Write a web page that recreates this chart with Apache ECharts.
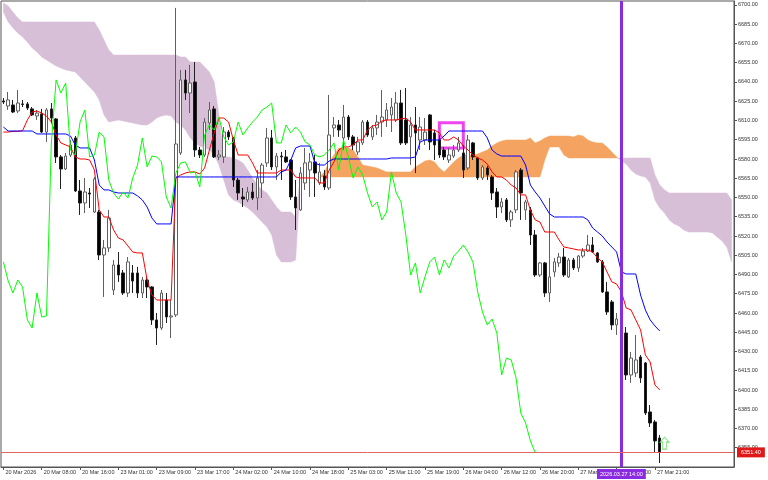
<!DOCTYPE html>
<html>
<head>
<meta charset="utf-8">
<script src="https://cdn.jsdelivr.net/npm/echarts/dist/echarts.min.js"></script>
<style>html,body{margin:0;padding:0;background:#fff}#c{width:768px;height:480px}</style>
</head>
<body>
<div id="c"></div>
<script>
// ---- data (prices) ----
const tickLabels = ['20 Mar 2026','20 Mar 08:00','20 Mar 16:00','23 Mar 01:00','23 Mar 09:00','23 Mar 17:00',
  '24 Mar 02:00','24 Mar 10:00','24 Mar 18:00','25 Mar 03:00','25 Mar 11:00','25 Mar 19:00',
  '26 Mar 04:00','26 Mar 12:00','26 Mar 20:00','27 Mar 05:00','27 Mar 13:00','27 Mar 21:00'];
const tickEvery = 8;
const slotCount = 153; // 138 bars + cloud projected forward

const open = [6625.2,6621.3,6622.1,6617.4,6622.9,6622.9,6619.0,6613.5,6615.1,6601.0,
6619.0,6611.2,6581.6,6572.2,6583.1,6596.4,6555.1,6545.7,6553.5,6538.7,
6538.7,6505.2,6510.7,6477.9,6497.4,6491.2,6475.6,6491.2,6491.2,6475.6,
6485.7,6480.3,6454.6,6448.3,6470.1,6456.9,6458.5,6584.7,6641.6,6631.4,
6640.0,6587.0,6583.1,6608.1,6619.0,6581.6,6581.6,6601.0,6596.4,6563.6,
6550.4,6548.1,6554.3,6549.6,6561.3,6576.9,6596.4,6573.8,6582.3,6581.6,
6579.2,6550.4,6540.3,6561.3,6571.4,6577.7,6561.3,6566.8,6557.4,6604.2,
6606.5,6596.4,6612.7,6597.2,6585.5,6592.5,6608.8,6597.2,6604.2,6608.8,
6610.4,6614.3,6610.4,6623.6,6610.4,6597.2,6606.5,6594.8,6594.8,6614.3,
6600.3,6594.8,6587.0,6579.2,6582.3,6587.0,6584.7,6573.0,6592.5,6580.8,
6565.2,6573.0,6566.0,6554.3,6542.6,6548.1,6532.5,6540.3,6571.4,6540.3,
6540.3,6520.8,6489.6,6499.0,6475.6,6492.0,6499.0,6503.6,6488.1,6501.3,
6495.1,6504.4,6508.3,6513.0,6506.8,6499.8,6476.4,6468.6,6450.7,6454.6,
6444.4,6411.7,6413.3,6425.7,6421.1,6382.9,6375.1,6362.6];
const close = [6624.4,6626.0,6616.6,6623.6,6622.5,6619.7,6614.3,6615.8,6601.0,6618.2,
6611.9,6581.6,6572.2,6582.3,6590.9,6555.1,6545.7,6554.3,6552.7,6564.4,
6505.2,6510.7,6534.0,6497.4,6489.6,6475.6,6499.8,6484.9,6475.6,6485.7,
6480.3,6454.6,6448.3,6475.6,6456.9,6457.7,6591.7,6641.6,6631.4,6639.2,
6587.0,6583.1,6608.8,6618.2,6581.6,6583.1,6601.0,6597.2,6563.6,6553.5,
6548.8,6554.3,6549.6,6565.2,6575.3,6596.4,6573.8,6582.3,6581.6,6577.7,
6550.4,6541.8,6569.1,6576.9,6577.7,6569.1,6569.9,6558.2,6598.7,6606.5,
6602.6,6612.7,6597.2,6590.9,6593.3,6608.8,6598.7,6604.2,6608.8,6612.7,
6618.2,6620.5,6623.6,6592.5,6592.5,6606.5,6600.3,6604.9,6601.0,6593.3,
6590.9,6583.1,6581.6,6583.1,6587.0,6592.5,6571.4,6594.8,6581.6,6565.2,
6573.8,6567.5,6553.5,6542.6,6546.5,6532.5,6538.7,6569.9,6553.5,6546.5,
6520.8,6489.6,6499.0,6475.6,6488.1,6499.8,6503.6,6489.6,6501.3,6495.1,
6504.4,6508.3,6513.0,6507.5,6499.8,6476.4,6460.8,6450.7,6455.3,6444.4,
6411.7,6424.9,6423.4,6409.4,6382.1,6374.3,6360.3,6351.4];
const low = [6622.9,6618.2,6615.8,6615.8,6620.5,6618.2,6613.5,6610.4,6600.3,6593.3,
6608.1,6576.9,6556.6,6571.4,6581.6,6554.3,6536.4,6537.9,6541.8,6537.9,
6501.3,6472.5,6507.5,6474.0,6484.2,6474.0,6472.5,6475.6,6471.7,6471.7,
6471.7,6450.7,6435.1,6446.8,6452.2,6440.5,6456.9,6583.1,6626.0,6615.8,
6581.6,6580.8,6581.6,6602.6,6580.8,6579.2,6576.9,6594.8,6558.2,6548.1,
6542.6,6546.5,6548.1,6540.3,6549.6,6573.8,6571.4,6563.6,6563.6,6576.9,
6548.1,6524.7,6539.5,6555.9,6550.4,6550.4,6559.7,6555.9,6555.9,6597.2,
6597.2,6587.0,6594.8,6587.0,6583.1,6590.9,6597.2,6594.8,6598.7,6597.2,
6604.9,6601.0,6608.8,6590.9,6590.9,6575.3,6569.1,6587.0,6590.9,6587.0,
6579.2,6580.8,6579.2,6576.9,6580.8,6585.5,6565.2,6571.4,6579.2,6563.6,
6563.6,6563.6,6548.1,6534.0,6537.9,6530.9,6527.0,6537.9,6532.5,6532.5,
6513.0,6488.1,6488.1,6472.5,6468.6,6488.1,6495.9,6488.1,6487.3,6493.5,
6492.0,6502.9,6507.5,6506.8,6499.0,6475.6,6458.5,6446.8,6442.9,6439.0,
6407.8,6405.5,6410.1,6405.5,6380.5,6371.2,6351.7,6343.1];
const high = [6627.5,6632.2,6626.0,6633.8,6626.0,6624.4,6620.5,6618.2,6619.0,6619.7,
6623.6,6611.9,6583.1,6584.7,6594.8,6597.9,6563.6,6565.2,6557.4,6566.0,
6540.3,6516.9,6540.3,6501.3,6507.5,6493.5,6503.6,6497.4,6495.9,6488.1,
6488.1,6481.0,6460.0,6477.9,6475.6,6470.1,6697.7,6649.4,6649.4,6653.3,
6655.6,6589.4,6611.9,6624.4,6621.3,6587.0,6604.9,6602.6,6597.0,6565.2,
6557.4,6558.2,6561.3,6571.4,6576.9,6604.2,6602.6,6584.7,6585.5,6587.0,
6580.0,6563.6,6573.8,6588.6,6584.7,6583.1,6576.9,6571.4,6629.9,6612.7,
6610.4,6622.1,6614.3,6598.7,6597.2,6610.4,6610.4,6606.5,6614.3,6633.8,
6623.6,6627.5,6632.2,6633.8,6635.3,6612.7,6620.5,6612.7,6611.9,6615.0,
6602.6,6598.7,6589.4,6588.6,6590.9,6597.2,6590.9,6598.7,6593.3,6581.6,
6575.3,6574.6,6567.5,6557.4,6549.6,6549.6,6540.3,6571.4,6573.0,6548.1,
6542.6,6524.7,6499.8,6499.8,6549.6,6502.9,6506.8,6510.7,6502.9,6502.9,
6505.2,6510.7,6520.8,6519.2,6507.5,6501.3,6484.2,6470.1,6460.0,6458.5,
6449.1,6429.6,6442.9,6427.3,6421.8,6388.3,6376.6,6364.9];

const tenkan = [6601.0,6601.0,6601.5,6601.5,6602.0,6610.4,6616.6,6617.4,6615.8,6613.5,
6608.8,6598.7,6592.5,6590.9,6589.4,6581.6,6580.0,6580.0,6579.2,6571.4,
6540.3,6534.8,6534.8,6524.7,6518.4,6516.9,6512.2,6507.5,6506.8,6506.8,
6485.7,6474.0,6470.1,6470.1,6470.1,6470.1,6565.2,6567.5,6569.1,6569.9,
6569.9,6568.3,6573.0,6587.0,6600.3,6611.9,6611.9,6608.8,6594.8,6583.1,
6583.1,6583.1,6576.9,6569.1,6569.1,6569.1,6569.1,6569.1,6571.4,6571.4,
6571.4,6566.0,6565.2,6565.2,6565.2,6565.2,6561.3,6561.3,6571.4,6577.7,
6587.0,6589.4,6589.4,6590.9,6594.8,6594.8,6602.6,6605.7,6606.5,6609.6,
6610.4,6610.4,6610.4,6611.2,6611.9,6608.8,6602.6,6602.6,6602.6,6602.6,
6602.6,6600.3,6594.8,6594.8,6597.2,6594.8,6590.1,6587.0,6583.1,6580.8,
6579.2,6576.1,6569.9,6566.0,6566.0,6563.6,6559.7,6557.4,6552.0,6552.0,
6540.3,6532.5,6530.9,6523.1,6523.1,6523.1,6516.9,6511.4,6510.7,6509.9,
6509.1,6509.1,6509.1,6507.5,6502.9,6499.8,6492.0,6484.2,6482.6,6476.4,
6463.9,6462.4,6454.6,6446.8,6427.3,6421.8,6403.9,6400.0];
const kijun = [6604.9,6601.8,6601.8,6601.8,6601.8,6601.8,6601.8,6599.5,6599.5,6599.5,
6599.5,6599.5,6599.5,6599.5,6597.9,6590.9,6588.6,6588.6,6588.6,6579.2,
6559.7,6555.9,6555.9,6554.3,6553.5,6553.5,6553.5,6553.5,6551.2,6548.1,
6542.6,6534.0,6529.4,6529.4,6529.4,6529.4,6566.0,6566.0,6566.0,6566.0,
6566.0,6566.0,6566.0,6566.0,6566.0,6566.0,6566.0,6566.0,6566.0,6566.0,
6566.0,6566.0,6566.0,6566.0,6566.0,6566.0,6566.0,6566.0,6569.9,6571.4,
6579.2,6588.6,6590.1,6590.1,6590.1,6576.9,6575.3,6575.3,6578.4,6580.0,
6580.0,6580.0,6580.0,6580.0,6580.0,6580.0,6580.0,6580.0,6580.0,6580.0,
6580.0,6580.8,6580.8,6580.8,6580.8,6580.8,6581.6,6593.3,6594.8,6594.8,
6594.8,6594.8,6597.9,6601.8,6601.8,6601.8,6601.8,6601.8,6601.8,6601.8,
6601.8,6596.4,6587.0,6583.9,6582.3,6582.3,6582.3,6582.3,6582.3,6575.3,
6559.7,6554.3,6549.6,6543.4,6537.2,6534.8,6534.8,6534.8,6534.8,6534.8,
6534.8,6534.8,6532.5,6526.2,6523.1,6520.0,6515.3,6511.4,6507.5,6492.0,
6490.4,6490.4,6490.4,6474.0,6462.4,6454.6,6449.9,6446.0];

// Senkou span A / B (already projected 26 bars forward), slots 0..152
const spanA = [6694.5,6686.8,6682.1,6678.2,6675.1,6671.2,6666.5,6663.4,6659.5,6657.2,
6654.8,6652.5,6650.9,6649.4,6648.6,6647.8,6643.9,6640.0,6636.1,6632.2,
6626.0,6614.3,6608.8,6609.6,6610.4,6609.6,6608.8,6608.1,6607.3,6606.5,
6606.5,6608.8,6611.9,6613.5,6614.3,6613.5,6608.8,6606.5,6602.6,6596.4,
6592.5,6590.1,6588.6,6587.0,6583.1,6575.3,6563.6,6552.0,6548.1,6546.5,
6544.2,6541.8,6538.7,6534.8,6530.9,6527.0,6520.8,6505.2,6499.8,6499.8,
6499.8,6501.3,6566.0,6566.0,6566.0,6566.0,6566.0,6569.9,6577.7,6583.1,
6588.6,6588.6,6588.6,6587.0,6581.6,6575.3,6574.6,6573.8,6573.0,6571.4,
6569.9,6569.9,6569.9,6569.9,6569.9,6569.9,6573.8,6576.1,6578.4,6579.2,
6577.7,6573.0,6569.9,6573.8,6577.7,6580.8,6583.1,6583.1,6583.1,6583.9,
6585.5,6587.0,6590.1,6592.5,6594.0,6594.8,6594.8,6594.8,6594.8,6594.8,
6596.4,6592.5,6594.0,6596.4,6597.9,6597.9,6597.9,6597.9,6597.9,6597.2,
6598.7,6597.9,6594.8,6593.3,6592.5,6592.5,6589.4,6585.5,6581.6,6578.4,
6576.1,6571.4,6568.3,6566.8,6566.0,6561.3,6548.1,6541.8,6537.9,6532.5,
6529.4,6527.8,6524.7,6523.1,6523.1,6523.1,6523.1,6523.1,6522.3,6519.2,
6516.1,6511.4,6499.8];
const spanB = [6701.6,6699.2,6694.5,6689.9,6686.8,6686.8,6686.8,6686.8,6686.8,6686.8,
6686.8,6686.8,6686.8,6686.8,6686.8,6686.8,6686.8,6686.8,6686.8,6686.8,
6680.5,6672.7,6664.9,6661.0,6661.0,6661.0,6661.0,6661.0,6661.0,6661.0,
6661.0,6661.0,6661.0,6661.0,6661.0,6661.0,6661.0,6659.5,6659.5,6655.6,
6655.6,6655.6,6651.7,6647.8,6640.0,6614.3,6581.6,6581.6,6580.8,6579.2,
6576.9,6571.4,6565.2,6559.7,6555.9,6553.5,6548.1,6542.6,6538.7,6538.7,
6538.7,6534.8,6566.0,6566.0,6566.0,6566.0,6566.0,6566.0,6566.0,6566.0,
6566.0,6566.0,6566.0,6566.0,6566.0,6566.0,6566.0,6566.0,6566.0,6566.0,
6566.0,6566.0,6566.0,6566.0,6566.0,6566.0,6566.0,6566.0,6566.0,6566.0,
6566.0,6566.0,6566.0,6566.0,6566.0,6566.0,6566.0,6566.0,6566.0,6566.0,
6566.0,6566.0,6566.0,6566.0,6566.0,6566.0,6566.0,6566.0,6566.0,6566.0,
6566.0,6566.0,6566.0,6579.2,6589.4,6589.4,6589.4,6583.1,6580.8,6580.8,
6580.8,6580.8,6580.8,6580.8,6580.8,6580.8,6580.8,6580.8,6580.8,6580.8,
6580.8,6580.8,6580.8,6580.8,6580.8,6580.8,6567.5,6559.7,6555.9,6553.5,
6553.5,6553.5,6553.5,6553.5,6553.5,6553.5,6553.5,6553.5,6553.5,6553.5,
6553.5,6553.5,6548.1];

const chikouShift = 26;
const bidPrice = 6351.40;
const markerTime = '2026.03.27 14:00';
const markerBar = 129;
const boxBars = [91, 96];
const boxPrices = [6608.3, 6588.6];
const arrowPoint = [138, 6358.6];

// ---- build ----
const categories = Array.from({length: slotCount}, (_, i) =>
  (i % tickEvery === 0 && tickLabels[i / tickEvery]) ? tickLabels[i / tickEvery] : '');
const candles = open.map((o, i) => [o, close[i], low[i], high[i]]);
const chikou = close.slice(chikouShift);

const UP = '#f4a460', DOWN = '#d8bfd8';
const FONT = 'Liberation Sans';

// Draw the cloud as one polygon per contiguous coloured region, through the axis scales.
function renderCloud(params, api) {
  if (params.dataIndex !== 0) return null;
  const regions = [];
  let curA = [], curB = [], curSign = 0;
  const flush = () => {
    if (curSign !== 0 && curA.length > 1) {
      regions.push({sign: curSign, pts: curA.concat(curB.slice().reverse())});
    }
  };
  for (let i = 0; i < spanA.length; i++) {
    const d = spanA[i] - spanB[i];
    const s = Math.sign(d);
    const pA = api.coord([i, spanA[i]]), pB = api.coord([i, spanB[i]]);
    if (i > 0) {
      const dp = spanA[i - 1] - spanB[i - 1];
      if (dp * d < 0) {
        const t = dp / (dp - d);
        const qA = api.coord([i - 1, spanA[i - 1]]);
        const pc = [qA[0] + t * (pA[0] - qA[0]), qA[1] + t * (pA[1] - qA[1])];
        curA.push(pc); curB.push(pc);
        flush();
        curA = [pc]; curB = [pc]; curSign = s;
      }
    }
    if (s === 0) {
      curA.push(pA); curB.push(pB);
      flush();
      curA = [pA]; curB = [pB]; curSign = 0;
    } else {
      if (curSign === 0) curSign = s;
      curA.push(pA); curB.push(pB);
    }
  }
  flush();
  return {
    type: 'group',
    children: regions.map(r => ({
      type: 'polygon', shape: {points: r.pts},
      style: {fill: r.sign > 0 ? UP : DOWN, stroke: r.sign > 0 ? UP : DOWN, lineWidth: 0.5}
    }))
  };
}

const showTick = (idx, val) => val !== '';

const chart = echarts.init(document.getElementById('c'), null, {renderer: 'canvas'});
chart.setOption({
  animation: false,
  backgroundColor: '#ffffff',
  textStyle: {fontFamily: FONT},
  grid: {left: 1, right: 34, top: 1, bottom: 13, show: true, borderColor: '#555', borderWidth: 1},
  xAxis: {
    type: 'category', data: categories, boundaryGap: true,
    axisLine: {show: true, lineStyle: {color: '#555', width: 1}},
    axisTick: {show: true, interval: showTick, alignWithLabel: true, length: 3, lineStyle: {color: '#555'}},
    axisLabel: {interval: showTick, align: 'left', margin: 2, padding: [0, 0, 0, 2],
      fontSize: 5.5, color: '#333', fontFamily: FONT},
    splitLine: {show: false}
  },
  yAxis: {
    type: 'value', position: 'right', min: 6340, max: 6703.1, interval: 15, scale: true,
    axisLine: {show: true, lineStyle: {color: '#555', width: 1}},
    axisTick: {show: true, length: 3, lineStyle: {color: '#555'}},
    axisLabel: {fontSize: 5.5, color: '#333', margin: 4, fontFamily: FONT,
      showMinLabel: false, showMaxLabel: false, formatter: v => v.toFixed(2)},
    splitLine: {show: false}
  },
  series: [
    {
      type: 'custom', name: 'cloud', renderItem: renderCloud,
      data: [[0, spanA[0], spanB[0]]],
      encode: {x: 0, y: [1, 2]}, clip: true, z: 1, silent: true
    },
    {
      type: 'candlestick', name: 'price', data: candles, barWidth: 3, z: 3,
      itemStyle: {color: '#ffffff', color0: '#000000', borderColor: '#606060', borderColor0: '#202020', borderWidth: 1},
      markLine: {
        silent: true, symbol: ['none', 'none'], animation: false,
        data: [
          {xAxis: markerBar, lineStyle: {color: '#8a2be2', width: 3, type: 'solid'},
            label: {show: true, position: 'start', formatter: markerTime, distance: 2,
              backgroundColor: '#8a2be2', color: '#ffffff', fontSize: 5.5, padding: [2, 3], fontFamily: FONT}},
          {yAxis: bidPrice, lineStyle: {color: '#e06666', width: 1, type: 'solid'},
            label: {show: true, position: 'end', formatter: bidPrice.toFixed(2), distance: 3,
              backgroundColor: '#e01818', color: '#ffffff', fontSize: 5.5, padding: [2, 4], fontFamily: FONT}}
        ]
      },
      markArea: {
        silent: true,
        itemStyle: {color: 'rgba(0,0,0,0)', borderColor: '#ee44ee', borderWidth: 3},
        data: [[{xAxis: boxBars[0], yAxis: boxPrices[0]}, {xAxis: boxBars[1], yAxis: boxPrices[1]}]]
      }
    },
    {type: 'line', name: 'Tenkan', data: tenkan, showSymbol: false, symbol: 'none', z: 4,
      lineStyle: {color: '#ff0000', width: 1}},
    {type: 'line', name: 'Kijun', data: kijun, showSymbol: false, symbol: 'none', z: 4,
      lineStyle: {color: '#0000ff', width: 1}},
    {type: 'line', name: 'Chikou', data: chikou, showSymbol: false, symbol: 'none', z: 4,
      lineStyle: {color: '#00ff00', width: 1}},
    {type: 'scatter', name: 'arrow', data: [arrowPoint], z: 5,
      symbol: 'path://M5,0 L10,5 L7,5 L7,12 L3,12 L3,5 L0,5 Z', symbolSize: [9, 12],
      itemStyle: {color: '#ffffff', borderColor: '#55dd55', borderWidth: 1}}
  ]
});
</script>
</body>
</html>
